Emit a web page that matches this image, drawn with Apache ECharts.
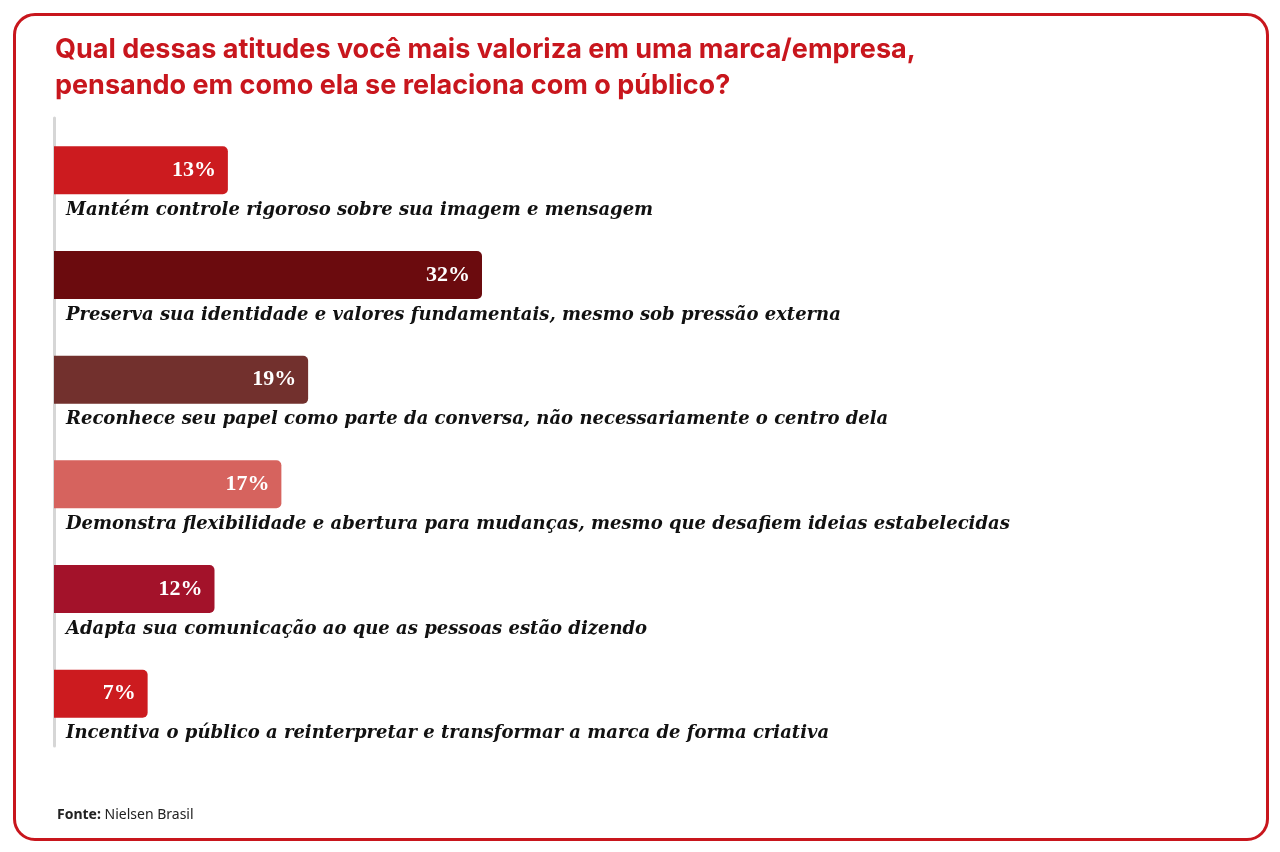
<!DOCTYPE html>
<html><head><meta charset="utf-8">
<script src="https://cdn.jsdelivr.net/npm/echarts@6/dist/echarts.min.js"></script>
<style>
html,body{margin:0;padding:0;background:#fff;}
#frame{position:absolute;left:13px;top:13px;width:1250px;height:822px;border:3px solid #c8161d;border-radius:22px;}
#c{position:absolute;left:0;top:0;width:1280px;height:852px;}
</style></head><body>
<div id="frame"></div>
<div id="c"></div>
<script>
const categories = [
 "Mantém controle rigoroso sobre sua imagem e mensagem",
 "Preserva sua identidade e valores fundamentais, mesmo sob pressão externa",
 "Reconhece seu papel como parte da conversa, não necessariamente o centro dela",
 "Demonstra flexibilidade e abertura para mudanças, mesmo que desafiem ideias estabelecidas",
 "Adapta sua comunicação ao que as pessoas estão dizendo",
 "Incentiva o público a reinterpretar e transformar a marca de forma criativa"
];
const values = [13, 32, 19, 17, 12, 7];
const colors = ["#cc1b1f", "#6b0b0e", "#72302d", "#d6635e", "#a3122a", "#cc1b1f"];

const chart = echarts.init(document.getElementById('c'));
chart.setOption({
  animation:false,
  title:[{
    text:"Qual dessas atitudes você mais valoriza em uma marca/empresa,\npensando em como ela se relaciona com o público?",
    left:50, top:27,
    textStyle:{fontFamily:"Inter", fontWeight:"bold", fontSize:27, color:"#c8161d", lineHeight:36}
  },{
    text:"{b|Fonte:} Nielsen Brasil",
    left:52, top:803,
    textStyle:{fontFamily:"Noto Sans", fontWeight:"normal", fontSize:14, color:"#222",
      rich:{b:{fontFamily:"Noto Sans", fontWeight:"bold", fontSize:14, color:"#222"}}}
  }],
  grid:{left:54, right:156, top:118, height:628},
  xAxis:{type:'value', min:0, max:80, show:false},
  yAxis:{type:'category', inverse:true, data:categories,
    axisLine:{show:true, lineStyle:{color:"#d6d6d6", width:3}},
    axisTick:{show:false},
    axisLabel:{inside:true, margin:12, align:'left', verticalAlign:'top', padding:[31,0,0,0],
      fontFamily:"DejaVu Serif", fontStyle:"italic", fontWeight:"bold", fontSize:18, color:"#111"}
  },
  series:[{
    type:'bar', barWidth:48,
    data: values.map((v,i)=>({value:v, itemStyle:{color:colors[i]}})),
    itemStyle:{borderRadius:[0,5,5,0]},
    label:{show:true, position:'insideRight', distance:12, formatter:'{c}%',
      fontFamily:"Liberation Serif", fontWeight:"bold", fontSize:22, color:"#fff"}
  }]
});
</script></body></html>
